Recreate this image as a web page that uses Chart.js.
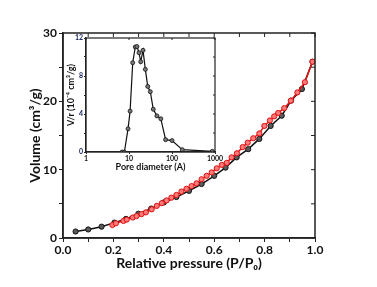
<!DOCTYPE html>
<html>
<head>
<meta charset="utf-8">
<script src="https://cdn.jsdelivr.net/npm/chart.js@4.4.0/dist/chart.umd.min.js"></script>
<style>
  body { margin: 0; background: #fff; }
  #wrap { position: relative; width: 377px; height: 287px; }
  #mainChart { position: absolute; left: 0; top: 0; }
  #insetChart { position: absolute; left: 60px; top: 30px; }
</style>
</head>
<body>
<div id="wrap">
  <canvas id="mainChart" width="377" height="287"></canvas>
  <canvas id="insetChart" width="165" height="150"></canvas>
</div>
<script>
// adsorption branch (black) and desorption branch (red), P/P0 vs volume
const adsP = [0.05, 0.10, 0.153, 0.204, 0.25, 0.299, 0.35, 0.40, 0.45, 0.50, 0.55, 0.60, 0.645, 0.689, 0.735, 0.779, 0.824, 0.868, 0.905, 0.948, 0.99];
const adsV = [0.95, 1.25, 1.66, 2.25, 2.8, 3.55, 4.3, 5.2, 6.0, 6.9, 7.9, 9.1, 10.3, 11.8, 13.0, 14.5, 16.4, 17.9, 20.1, 21.8, 25.8];
const desP = [0.196, 0.21, 0.24, 0.253, 0.277, 0.292, 0.312, 0.329, 0.352, 0.372, 0.392, 0.411, 0.43, 0.45, 0.47, 0.49, 0.51, 0.53, 0.55, 0.57, 0.59, 0.61, 0.63, 0.65, 0.669, 0.69, 0.713, 0.733, 0.755, 0.779, 0.799, 0.821, 0.838, 0.854, 0.878, 0.904, 0.93, 0.96, 0.99];
const desV = [1.9, 2.15, 2.5, 2.7, 3.0, 3.2, 3.5, 3.75, 4.2, 4.7, 5.1, 5.5, 5.9, 6.3, 6.8, 7.2, 7.6, 8.0, 8.6, 9.1, 9.6, 10.2, 10.7, 11.0, 11.8, 12.4, 13.3, 13.95, 14.6, 15.3, 16.4, 17.2, 17.8, 18.3, 19.0, 20.1, 21.3, 22.8, 25.8];

// pore size distribution (inset)
const poreD = [6.9, 7.8, 9.5, 10.6, 12.2, 14.0, 15.3, 17.1, 18.7, 21.2, 24.0, 27.3, 31.3, 36.7, 44.6, 55, 71, 100, 174, 867];
const poreV = [0, 0, 2.44, 4.3, 9.4, 11.05, 11.1, 10.45, 9.5, 10.7, 8.7, 6.9, 6.35, 4.5, 3.8, 3.5, 1.3, 1.2, 0.24, 0.07];

const mainYTicks = [0, 10, 20, 30];
const mainXTicks = [0, 0.2, 0.4, 0.6, 0.8, 1.0];
const insetXTicks = [1, 10, 100, 1000];
const insetYTicks = [0, 4, 8, 12];

const FONT = 'Lato, "Open Sans", sans-serif';

function pts(xs, ys) { return xs.map((x, i) => ({ x: x, y: ys[i] })); }

// frame + inward ticks on top/right
const framePlugin = {
  id: 'frame',
  afterDraw(chart, args, opts) {
    const { ctx, chartArea: a, scales } = chart;
    ctx.save();
    ctx.strokeStyle = opts.color || '#222';
    ctx.lineWidth = opts.width || 1.5;
    ctx.strokeRect(a.left, a.top, a.right - a.left, a.bottom - a.top);
    const len = opts.tick || 4;
    ctx.lineWidth = 1;
    scales.x.ticks.forEach(t => {
      const px = scales.x.getPixelForValue(t.value);
      ctx.beginPath(); ctx.moveTo(px, a.top); ctx.lineTo(px, a.top + len); ctx.stroke();
    });
    scales.y.ticks.forEach(t => {
      const py = scales.y.getPixelForValue(t.value);
      ctx.beginPath(); ctx.moveTo(a.right, py); ctx.lineTo(a.right - len, py); ctx.stroke();
    });
    ctx.restore();
  }
};

new Chart(document.getElementById('mainChart'), {
  type: 'line',
  data: {
    datasets: [
      { data: pts(adsP, adsV), order: 1, borderColor: '#111', borderWidth: 1.5, pointRadius: 2.6,
        pointBackgroundColor: '#5a5a5a', pointBorderColor: '#111', pointBorderWidth: 1, tension: 0 },
      { data: pts(desP, desV), order: 0, borderColor: '#ee1111', borderWidth: 1.5, pointRadius: 2.6,
        pointBackgroundColor: '#ff7a7a', pointBorderColor: '#e01010', pointBorderWidth: 1, tension: 0 }
    ]
  },
  options: {
    responsive: false, animation: false,
    layout: { padding: { left: 0, right: 62, top: 33, bottom: 0 } },
    plugins: { legend: { display: false }, tooltip: { enabled: false }, frame: { width: 1.5, tick: 4 } },
    scales: {
      x: {
        type: 'linear', min: 0, max: 1,
        afterFit: s => { s.height = 49; },
        afterBuildTicks: s => { s.ticks = []; for (let i = 0; i <= 10; i++) s.ticks.push({ value: i / 10 }); },
        ticks: { padding: 1, color: '#111', font: { family: FONT, size: 12, weight: 'bold' },
          callback: v => mainXTicks.some(t => Math.abs(t - v) < 1e-6) ? v.toFixed(1) : '' , autoSkip: false, maxRotation: 0 },
        grid: { drawOnChartArea: false, tickLength: 4, color: '#222' },
        border: { color: '#222', width: 1.5 },
        title: { display: true, text: 'Relative pressure (P/P\u2080)', color: '#111',
          font: { family: FONT, size: 14, weight: 'bold' }, padding: { top: 0, bottom: 15 } }
      },
      y: {
        type: 'linear', min: 0, max: 30,
        afterFit: s => { s.width = 63; },
        afterBuildTicks: s => { s.ticks = []; for (let v = 0; v <= 30; v += 5) s.ticks.push({ value: v }); },
        ticks: { padding: 2, color: '#111', font: { family: FONT, size: 12, weight: 'bold' },
          callback: v => mainYTicks.includes(v) ? String(v) : '' },
        grid: { drawOnChartArea: false, tickLength: 4, color: '#222' },
        border: { color: '#222', width: 1.5 },
        title: { display: true, text: 'Volume (cm\u00b3/g)', color: '#111',
          font: { family: FONT, size: 14, weight: 'bold' }, padding: { top: 27, bottom: 0 } }
      }
    }
  },
  plugins: [framePlugin]
});

new Chart(document.getElementById('insetChart'), {
  type: 'line',
  data: {
    datasets: [
      { data: pts(poreD, poreV), borderColor: '#111', borderWidth: 1.2, pointRadius: 2,
        pointBackgroundColor: '#777', pointBorderColor: '#111', pointBorderWidth: 0.8, tension: 0 }
    ]
  },
  options: {
    responsive: false, animation: false,
    layout: { padding: { left: 0, right: 10, top: 8, bottom: 0 } },
    plugins: { legend: { display: false }, tooltip: { enabled: false }, frame: { width: 1.2, tick: 2 } },
    scales: {
      x: {
        type: 'logarithmic', min: 1, max: 1000,
        afterFit: s => { s.height = 28; },
        afterBuildTicks: s => { s.ticks = insetXTicks.map(v => ({ value: v })); },
        ticks: { padding: 1, color: '#111', font: { family: FONT, size: 7, weight: 'bold' },
          callback: v => String(v), autoSkip: false, maxRotation: 0 },
        grid: { drawOnChartArea: false, tickLength: 2, color: '#222' },
        border: { color: '#222', width: 1.2 },
        title: { display: true, text: 'Pore diameter (A)', color: '#111',
          font: { family: FONT, size: 9, weight: 'bold' }, padding: { top: 0, bottom: 8 } }
      },
      y: {
        type: 'linear', min: 0, max: 12,
        afterFit: s => { s.width = 26; },
        afterBuildTicks: s => { s.ticks = []; for (let v = 0; v <= 12; v += 2) s.ticks.push({ value: v }); },
        ticks: { padding: 1, color: '#14205a', font: { family: FONT, size: 7, weight: 'bold' },
          callback: v => insetYTicks.includes(v) ? String(v) : '' },
        grid: { drawOnChartArea: false, tickLength: 2, color: '#222' },
        border: { color: '#222', width: 1.2 },
        title: { display: true, text: 'V/r (10\u207b\u2074 cm\u00b3/g)', color: '#111',
          font: { family: FONT, size: 9, weight: 'bold' }, padding: { top: 6, bottom: 0 } }
      }
    }
  },
  plugins: [framePlugin]
});
</script>
</body>
</html>
